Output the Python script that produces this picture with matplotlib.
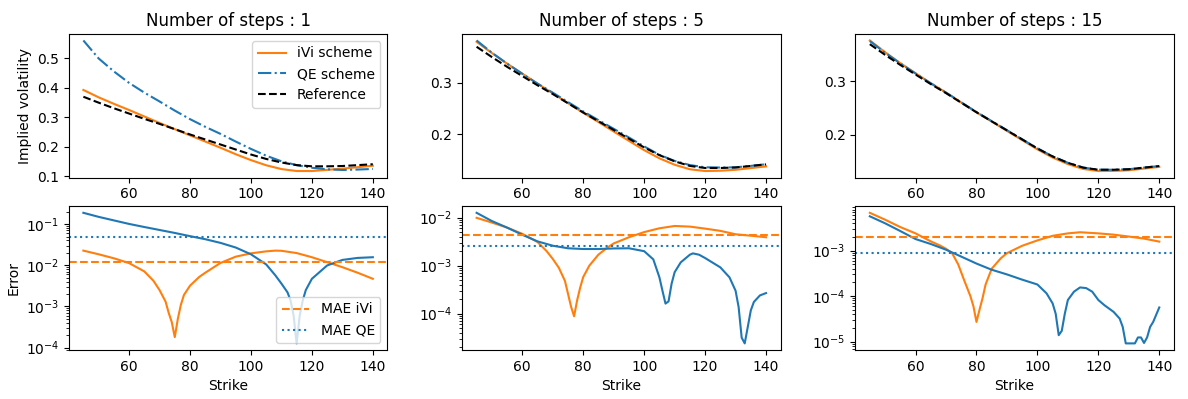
import matplotlib
matplotlib.use("Agg")
import matplotlib.pyplot as plt

# ── implied volatility curves (top row), strikes every 5 ──────────
strikes = [45, 50, 55, 60, 65, 70, 75, 80, 85, 90,
           95, 100, 105, 110, 115, 120, 125, 130, 135, 140]

iv_ref = [0.370, 0.350, 0.331, 0.313, 0.295, 0.278, 0.260, 0.242, 0.225, 0.208,
          0.191, 0.174, 0.159, 0.147, 0.138, 0.134, 0.134, 0.135, 0.138, 0.141]

iv_ivi_1 = [0.393, 0.368, 0.346, 0.325, 0.303, 0.281, 0.260, 0.239, 0.218, 0.197,
            0.175, 0.155, 0.1375, 0.1246, 0.118, 0.118, 0.122, 0.126, 0.131, 0.136]
iv_qe_1 = [0.561, 0.500, 0.456, 0.417, 0.384, 0.354, 0.323, 0.294, 0.268, 0.244,
           0.218, 0.193, 0.170, 0.151, 0.138, 0.129, 0.124, 0.1215, 0.123, 0.125]

iv_ivi_5 = [0.3797, 0.3579, 0.3372, 0.3177, 0.2981, 0.2794, 0.2603, 0.2415, 0.2234, 0.205,
            0.1868, 0.1687, 0.1528, 0.1403, 0.1315, 0.1281, 0.1287, 0.1305, 0.1338, 0.1371]
iv_qe_5 = [0.3823, 0.3585, 0.3372, 0.3174, 0.2983, 0.2806, 0.2623, 0.2441, 0.2271, 0.2103,
           0.1933, 0.176, 0.1596, 0.1477, 0.1397, 0.1354, 0.1349, 0.1353, 0.1381, 0.1413]

iv_ivi_15 = [0.377, 0.3549, 0.3344, 0.3154, 0.2966, 0.2791, 0.2604, 0.242, 0.2246, 0.2071,
             0.1897, 0.1723, 0.1569, 0.1446, 0.1355, 0.1316, 0.1318, 0.133, 0.1362, 0.1394]
iv_qe_15 = [0.3758, 0.354, 0.3338, 0.3148, 0.2965, 0.2790, 0.2607, 0.2425, 0.2254, 0.2083,
            0.1912, 0.1742, 0.1591, 0.1471, 0.1382, 0.1341, 0.134, 0.135, 0.138, 0.141]

# ── absolute errors (bottom row), finer strikes around the dips ───
k_err_ivi_1 = [45, 50, 55, 60, 65, 68, 70, 72, 73, 74, 75, 76, 77, 78, 80, 83, 85, 90,
               95, 100, 105, 108, 110, 115, 120, 125, 130, 135, 140]
err_ivi_1 = [.0227, .0185, .0148, .0113, .0071, .0042, .0025, .0013, .0007, .00042,
             .00018, .0005, .0011, .0019, .0032, .0052, .0066, .0114, .0162, .0195,
             .0218, .0227, .0225, .0198, .0157, .0119, .0090, .0066, .0047]
k_err_qe_1 = [45, 50, 55, 60, 65, 70, 75, 80, 85, 90, 95, 100, 105, 108, 110,
              112, 113, 114, 115, 116, 117, 118, 120, 125, 130, 135, 140]
err_qe_1 = [.188, .150, .123, .101, .085, .072, .061, .051, .043, .035, .027, .0185,
            .0105, .0057, .0036, .0022, .0014, .0006, .000127, .0006, .0014, .0025,
            .0047, .0099, .0135, .0151, .0157]

k_err_ivi_5 = [45, 50, 55, 60, 65, 68, 70, 72, 74, 76, 77, 78, 79, 80, 82, 85, 88,
               90, 95, 100, 105, 110, 115, 120, 125, 130, 135, 140]
err_ivi_5 = [.0099, .0079, .0062, .0046, .0031, .0020, .00138, .0009, .00048, .00014,
             .000088, .00019, .00035, .00058, .0010, .0017, .0024, .0029, .0039, .0050,
             .0060, .0067, .0065, .0059, .0053, .0045, .0042, .0039]
k_err_qe_5 = [45, 50, 55, 60, 65, 70, 75, 80, 85, 90, 95, 100, 103, 105, 106, 107,
              108, 109, 110, 112, 115, 116, 118, 120, 125, 128, 130, 131, 132, 133,
              134, 135, 136, 138, 140]
err_qe_5 = [.0126, .0085, .0062, .0044, .0032, .0026, .0023, .00222, .00222, .00228,
            .0023, .0020, .00135, .00057, .00030, .000162, .00018, .00042, .00073,
            .00117, .00169, .0018, .00169, .00144, .00092, .00057, .00030, .000137,
            .0000316, .000024, .0000528, .000117, .000175, .00024, .000268]

k_err_ivi_15 = [45, 50, 55, 60, 65, 68, 70, 72, 74, 76, 78, 79, 80, 81, 82, 83,
                85, 88, 90, 95, 100, 105, 110, 114, 120, 125, 130, 135, 140]
err_ivi_15 = [.0068, .0048, .0033, .0024, .0016, .0013, .0011, .00088, .0005,
              .00022, .0001, .00006, .000027, .00005, .00009, .00018, .0004,
              .00068, .00088, .00128, .00168, .00212, .0024, .00254, .0024,
              .00225, .00204, .00184, .00158]
k_err_qe_15 = [45, 50, 55, 60, 65, 70, 75, 80, 85, 90, 95, 100, 103, 105, 106, 107,
               108, 109, 110, 112, 114, 116, 118, 120, 122, 125, 127, 128, 129, 130,
               131, 132, 133, 134, 135, 136, 137, 138, 140]
err_qe_15 = [.0057, .0040, .0027, .0018, .0014, .00105, .00074, .00052, .00038,
             .0003, .00023, .00018, .000115, .000069, .000041, .0000138, .0000172,
             .000041, .000082, .000125, .000155, .00015, .000125, .000082, .000063,
             .000045, .000032, .000021, .0000091, .0000091, .0000091, .0000091,
             .0000123, .0000123, .0000093, .0000123, .000021, .000027, .0000562]

n_steps = [1, 5, 15]
mae_ivi = [0.0123, 0.00438, 0.00200]
mae_qe = [0.0494, 0.00259, 0.00087]

iv_ivi = [iv_ivi_1, iv_ivi_5, iv_ivi_15]
iv_qe = [iv_qe_1, iv_qe_5, iv_qe_15]
err_ivi = [(k_err_ivi_1, err_ivi_1), (k_err_ivi_5, err_ivi_5), (k_err_ivi_15, err_ivi_15)]
err_qe = [(k_err_qe_1, err_qe_1), (k_err_qe_5, err_qe_5), (k_err_qe_15, err_qe_15)]

fig, axes = plt.subplots(2, 3, figsize=(11.88, 3.99), dpi=100)
fig.subplots_adjust(left=0.058, right=0.988, top=0.915, bottom=0.123,
                    hspace=0.2, wspace=0.235)

for j in range(3):
    ax = axes[0, j]
    ax.plot(strikes, iv_ivi[j], color='C1', label='iVi scheme')
    ax.plot(strikes, iv_qe[j], color='C0', linestyle='-.', label='QE scheme')
    ax.plot(strikes, iv_ref, color='k', linestyle='--', label='Reference')
    ax.set_title(f'Number of steps : {n_steps[j]}')

    ax = axes[1, j]
    ax.plot(*err_ivi[j], color='C1')
    ax.plot(*err_qe[j], color='C0')
    ax.axhline(mae_ivi[j], color='C1', linestyle='--', label='MAE iVi')
    ax.axhline(mae_qe[j], color='C0', linestyle=':', label='MAE QE')
    ax.set_yscale('log')
    ax.set_xlabel('Strike')

axes[0, 0].set_ylabel('Implied volatility')
axes[1, 0].set_ylabel('Error')
axes[0, 0].legend(loc='upper right')
axes[1, 0].legend(loc='lower right')

plt.savefig('out.png', dpi=100)
